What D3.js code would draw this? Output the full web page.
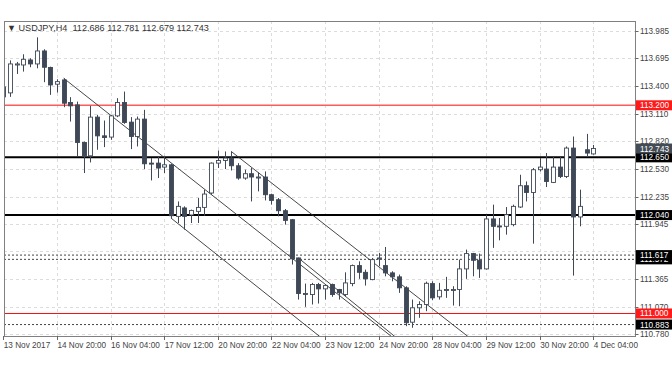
<!DOCTYPE html>
<html>
<head>
<meta charset="utf-8">
<script src="https://cdn.jsdelivr.net/npm/d3@7"></script>
<style>
  body { margin: 0; background: #fff; }
  svg text { font-family: "Liberation Sans", Arial, sans-serif; font-size: 8.2px; }
  svg text.title { font-size: 9.1px; white-space: pre; }
</style>
</head>
<body>
<div id="vis"></div>
<script>
// USDJPY H4, una vela por cada 4 horas
const OPEN = [113.394,113.331,113.626,113.626,113.679,113.637,113.774,113.600,113.423,113.468,
  113.229,113.204,112.807,112.666,113.075,112.877,112.864,113.088,113.229,113.022,
  112.870,113.054,112.589,112.589,112.547,112.571,112.026,112.115,112.041,112.079,
  112.121,112.273,112.589,112.617,112.642,112.561,112.431,112.477,112.437,112.442,
  112.255,112.202,112.086,111.991,111.587,111.207,111.200,111.306,111.260,111.306,
  111.253,111.200,111.316,111.506,111.435,111.358,111.583,111.506,111.429,111.387,
  111.271,110.908,111.060,111.095,111.316,111.176,111.250,111.250,111.253,111.471,
  111.633,111.562,111.471,111.999,111.925,111.921,111.939,112.125,112.350,112.279,
  112.519,112.526,112.385,112.547,112.448,112.748,112.020,112.730,112.686];
const HIGH = [113.415,113.674,113.658,113.739,113.697,113.918,113.792,113.608,113.475,113.486,
  113.286,113.239,112.817,113.194,113.099,113.039,113.099,113.275,113.345,113.075,
  113.081,113.152,112.642,112.659,112.666,112.582,112.184,112.132,112.097,112.220,
  112.308,112.596,112.722,112.712,112.712,112.589,112.519,112.537,112.490,112.501,
  112.266,112.220,112.104,111.999,111.587,111.316,111.323,111.323,111.306,111.316,
  111.260,111.435,111.517,111.551,111.464,111.587,111.640,111.703,111.446,111.411,
  111.288,111.147,111.129,111.337,111.340,111.323,111.387,111.288,111.569,111.675,
  111.640,111.633,112.044,112.150,112.009,112.125,112.150,112.466,112.395,112.537,
  112.642,112.695,112.653,112.653,112.765,112.870,112.308,112.898,112.781];
const LOW = [113.257,113.289,113.531,113.556,113.602,113.591,113.444,113.310,113.334,113.180,
  113.028,112.659,112.484,112.596,112.730,112.758,112.835,113.075,113.004,112.737,
  112.765,112.526,112.406,112.431,112.484,112.009,111.956,111.886,111.956,111.956,
  112.033,112.255,112.537,112.526,112.511,112.413,112.413,112.184,112.290,112.195,
  112.150,112.026,111.939,111.517,111.147,111.070,111.095,111.105,111.147,111.176,
  111.147,111.182,111.288,111.366,111.295,111.351,111.499,111.393,111.340,111.218,
  110.866,110.849,110.954,111.024,111.140,111.147,111.165,111.084,111.077,111.366,
  111.393,111.376,111.464,111.693,111.773,111.833,111.921,112.115,112.184,111.738,
  112.501,112.336,112.378,112.431,112.431,111.400,111.921,112.653,112.679];
const CLOSE = [113.289,113.637,113.637,113.686,113.637,113.774,113.602,113.415,113.450,113.222,
  113.194,112.807,112.666,113.075,112.877,112.859,113.088,113.229,113.018,112.870,
  113.054,112.582,112.582,112.537,112.571,112.033,112.132,112.026,112.089,112.121,
  112.262,112.589,112.617,112.642,112.561,112.431,112.477,112.442,112.442,112.255,
  112.195,112.086,111.984,111.577,111.211,111.211,111.306,111.260,111.295,111.200,
  111.218,111.323,111.506,111.435,111.366,111.569,111.587,111.429,111.387,111.271,
  110.902,111.060,111.095,111.319,111.165,111.245,111.253,111.253,111.471,111.633,
  111.562,111.471,111.999,111.921,111.921,112.044,112.132,112.350,112.279,112.519,
  112.547,112.395,112.547,112.448,112.748,112.020,112.132,112.695,112.743];

const TIME_TICK_BARS = [0, 8, 16, 24, 32, 40, 48, 56, 64, 72, 80, 88];
const TIME_TICK_LABELS = ["13 Nov 2017", "14 Nov 20:00", "16 Nov 04:00", "17 Nov 12:00",
  "20 Nov 20:00", "22 Nov 04:00", "23 Nov 12:00", "24 Nov 20:00", "28 Nov 04:00",
  "29 Nov 12:00", "30 Nov 20:00", "4 Dec 04:00"];

const PRICE_TICKS = [113.985, 113.695, 113.400, 113.110, 112.820, 112.530, 112.235,
  111.945, 111.655, 111.365, 111.070, 110.780];

// niveles horizontales: precio y tipo de linea
const LEVEL_PRICES = [113.200, 112.650, 112.040, 111.617, 111.572, 111.000, 110.883];
const LEVEL_KINDS = ["red", "black", "black", "dash", "dash", "redthin", "dash"];

// canales: [barra inicio, precio inicio, barra final, precio final]
const CHANNELS = [
  [9, 113.486, 57.7, 110.768],
  [25, 112.009, 47.0, 110.768],
  [34, 112.712, 69.1, 110.768],
  [44, 111.587, 58.2, 110.768],
];

const TITLE = "\u25BC USDJPY,H4\u00A0\u00A0112.686 112.781 112.679 112.743";
const LAST_PRICE = 112.743;

const WIDTH = 672;
const HEIGHT = 372;
const PLOT = { left: 4, right: 635, top: 21, bottom: 336 };

const SVG = d3.select("#vis").append("svg")
  .attr("width", WIDTH).attr("height", HEIGHT);

const xScale = d3.scaleLinear().domain([0, 88]).range([3.3, 593.3]);
const yScale = d3.scaleLinear().domain([110.780, 113.985]).range([334.3, 31]);

const CANDLE_DARK = "#3e4857";

SVG.append("defs").append("clipPath").attr("id", "plot")
  .append("rect")
  .attr("x", PLOT.left).attr("y", PLOT.top)
  .attr("width", PLOT.right - PLOT.left).attr("height", PLOT.bottom - PLOT.top);

// grilla
const grid = SVG.append("g");
grid.selectAll("line.h").data(PRICE_TICKS).join("line")
  .attr("class", "h")
  .attr("x1", PLOT.left).attr("x2", PLOT.right)
  .attr("y1", d => Math.round(yScale(d)) + 0.5).attr("y2", d => Math.round(yScale(d)) + 0.5)
  .attr("stroke", "#dcdcdc").attr("stroke-dasharray", "3,3");
grid.selectAll("line.v").data(TIME_TICK_BARS.slice(1)).join("line")
  .attr("class", "v")
  .attr("x1", d => Math.round(xScale(d)) + 0.5).attr("x2", d => Math.round(xScale(d)) + 0.5)
  .attr("y1", PLOT.top).attr("y2", PLOT.bottom)
  .attr("stroke", "#dcdcdc").attr("stroke-dasharray", "3,3");

// niveles horizontales
const levels = SVG.append("g");
levels.selectAll("line").data(LEVEL_PRICES).join("line")
  .attr("x1", PLOT.left).attr("x2", PLOT.right)
  .attr("y1", d => yScale(d)).attr("y2", d => yScale(d))
  .attr("stroke", (d, i) => {
    const k = LEVEL_KINDS[i];
    if (k == "red") return "#ff5a5a";
    if (k == "redthin") return "#f01010";
    if (k == "black") return "#000";
    return "#444";
  })
  .attr("stroke-width", (d, i) => LEVEL_KINDS[i] == "black" ? 2 : (LEVEL_KINDS[i] == "red" ? 1.5 : 1))
  .attr("stroke-dasharray", (d, i) => LEVEL_KINDS[i] == "dash" ? "2,2" : null);

// canales
SVG.append("g").attr("clip-path", "url(#plot)")
  .selectAll("line").data(CHANNELS).join("line")
  .attr("x1", d => xScale(d[0])).attr("y1", d => yScale(d[1]))
  .attr("x2", d => xScale(d[0] + (d[2] - d[0]) * 1.3))
  .attr("y2", d => yScale(d[1] + (d[3] - d[1]) * 1.3))
  .attr("stroke", "#333").attr("stroke-width", 0.9);

// velas
const bars = OPEN.map((o, i) => ({ i, o, h: HIGH[i], l: LOW[i], c: CLOSE[i] }));
const candles = SVG.append("g").attr("clip-path", "url(#plot)")
  .selectAll("g").data(bars).join("g");

candles.append("line")
  .attr("x1", d => Math.round(xScale(d.i)) + 0.5).attr("x2", d => Math.round(xScale(d.i)) + 0.5)
  .attr("y1", d => yScale(d.h)).attr("y2", d => yScale(d.l))
  .attr("stroke", CANDLE_DARK).attr("stroke-width", 1);

candles.append("rect")
  .attr("x", d => Math.round(xScale(d.i)) - 1.5)
  .attr("y", d => yScale(Math.max(d.o, d.c)))
  .attr("width", 4)
  .attr("height", d => Math.max(1, Math.abs(yScale(d.o) - yScale(d.c))))
  .attr("fill", d => d.c >= d.o ? "#fff" : CANDLE_DARK)
  .attr("stroke", CANDLE_DARK).attr("stroke-width", 0.9);

// marco
SVG.append("rect")
  .attr("x", PLOT.left + 0.5).attr("y", PLOT.top + 0.5)
  .attr("width", PLOT.right - PLOT.left).attr("height", PLOT.bottom - PLOT.top)
  .attr("fill", "none").attr("stroke", "#808080");

// eje de precios (las etiquetas tapadas por un nivel no se ven en MT4)
const yAxis = SVG.append("g");
yAxis.selectAll("line").data(PRICE_TICKS).join("line")
  .attr("x1", PLOT.right + 0.5).attr("x2", PLOT.right + 3.5)
  .attr("y1", d => Math.round(yScale(d)) + 0.5).attr("y2", d => Math.round(yScale(d)) + 0.5)
  .attr("stroke", "#666");
const visibleTicks = PRICE_TICKS.filter(t =>
  LEVEL_PRICES.every(p => Math.abs(yScale(p) - yScale(t)) > 5));
yAxis.selectAll("text").data(visibleTicks).join("text")
  .attr("x", 640).attr("y", d => yScale(d) + 3)
  .attr("fill", "#444")
  .text(d => d.toFixed(3));

// etiquetas de niveles
const tags = LEVEL_PRICES.map((p, i) => ({ p, kind: LEVEL_KINDS[i] }))
  .reverse();
tags.push({ p: LAST_PRICE, kind: "last" });
const tag = SVG.append("g").selectAll("g").data(tags).join("g")
  .attr("transform", d => `translate(636, ${yScale(d.p)})`);
tag.append("rect")
  .attr("x", 0).attr("y", -5).attr("width", 36).attr("height", 10)
  .attr("fill", d => d.kind.startsWith("red") ? "#ff1a1a" : (d.kind == "last" ? "#434b55" : "#000"));
tag.append("text")
  .attr("x", 4).attr("y", 3)
  .attr("fill", "#fff")
  .text(d => d.p.toFixed(3));

// eje de tiempo
const xAxis = SVG.append("g");
xAxis.selectAll("line").data(TIME_TICK_BARS).join("line")
  .attr("x1", d => Math.round(xScale(d)) + 0.5).attr("x2", d => Math.round(xScale(d)) + 0.5)
  .attr("y1", PLOT.bottom).attr("y2", PLOT.bottom + 4)
  .attr("stroke", "#666");
xAxis.selectAll("text").data(TIME_TICK_BARS).join("text")
  .attr("x", d => xScale(d) + 0.5).attr("y", 348)
  .attr("fill", "#444")
  .text((d, i) => TIME_TICK_LABELS[i]);

// titulo
SVG.append("text").attr("class", "title")
  .attr("x", 7).attr("y", 31)
  .attr("fill", "#333")
  .text(TITLE);
</script>
</body>
</html>
